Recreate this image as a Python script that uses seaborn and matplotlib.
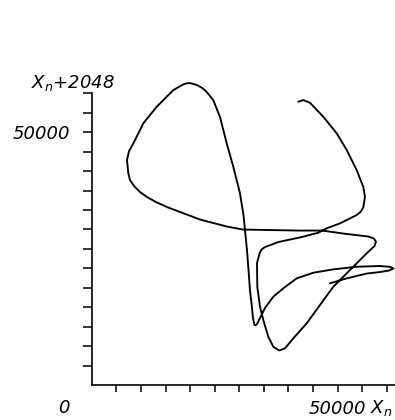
import matplotlib
matplotlib.use("Agg")
import matplotlib.pyplot as plt
import pandas as pd
import seaborn as sns

# Delay-embedding trajectory: x_n against x_{n+2048}
x_n = [41990, 43010, 44370, 47070, 49800, 51830, 53860, 55200, 55550, 55200,
       54630, 53860, 50470, 47760, 46060, 42680, 37930, 35220, 34510, 34110,
       33600, 33660, 34210, 34880, 35890, 36910, 38130, 39290, 40980, 43700,
       46400, 49110, 53170, 56160, 57480, 57780, 57380, 56220, 51480, 46810,
       42340, 36240, 30750, 27500, 22010, 15300, 13070, 11240, 9820, 8600,
       7780, 7440, 7170, 7580, 8460, 10490, 13210, 16590, 18560, 19270,
       19980, 21400, 22320, 23230, 24710, 26080, 27440, 28780, 30140, 30850,
       31160, 31560, 31830, 32170, 32520, 32780, 33090, 33350, 33600, 34210,
       35220, 36910, 38940, 41670, 45040, 49110, 53860, 58600, 60630, 61340,
       60430, 58600, 55890, 51830, 48430]
x_lag = [56010, 56340, 55810, 53050, 49760, 46460, 42510, 39200, 37230, 35090,
         34200, 33610, 31970, 30980, 30110, 29260, 28270, 27280, 26790, 26000,
         24120, 19430, 15480, 12850, 9550, 7570, 6820, 7260, 9230, 12200,
         15820, 19430, 23390, 26290, 27480, 28330, 28960, 29360, 29910, 30540,
         30540, 30640, 30740, 31330, 32720, 35190, 36180, 37170, 38160, 39340,
         40530, 41850, 44480, 46260, 47780, 51740, 55020, 58320, 59410, 59650,
         59710, 59310, 58820, 58120, 56340, 52980, 47780, 43160, 37900, 33610,
         30640, 26690, 23330, 18780, 15820, 13250, 11860, 11800, 12060, 13250,
         15220, 17460, 19120, 21090, 22200, 22870, 23390, 23530, 23370, 23030,
         22640, 22340, 22040, 21090, 20110]

# Axis ticks: only one labelled tick on each axis
x_step = 5000
y_step = 50000 / 13
x_tick_count = 12
y_tick_count = 15
x_label_value = 50000
y_label_value = 50000
origin_label = "0"
x_axis_name = "$X_n$"
y_axis_name = "$X_n$+2048"

x_max = 61650
y_max = 61000

sns.set_style("ticks")
plt.rcParams["font.family"] = ["DejaVu Sans"]
plt.rcParams["mathtext.default"] = "it"
plt.rcParams["text.color"] = "black"

fig = plt.figure(figsize=(3.95, 4.2), dpi=100)
ax = fig.add_axes([0.2322, 0.0833, 0.7678, 0.7345])

df = pd.DataFrame({"x_n": x_n, "x_lag": x_lag})
sns.lineplot(data=df, x="x_n", y="x_lag", sort=False, estimator=None,
             color="black", linewidth=1.35, ax=ax)
for ln in ax.lines:
    ln.set_clip_on(False)
    ln.set_solid_joinstyle("round")
    ln.set_solid_capstyle("round")

ax.set_xlim(0, x_max)
ax.set_ylim(0, y_max)
ax.set_xlabel("")
ax.set_ylabel("")

for side in ("top", "right"):
    ax.spines[side].set_visible(False)
for side in ("left", "bottom"):
    ax.spines[side].set_color("black")
    ax.spines[side].set_linewidth(1.2)
ax.spines["left"].set_bounds(0, y_step * y_tick_count)
ax.spines["bottom"].set_bounds(0, x_max)

xt = [x_step * k for k in range(1, x_tick_count + 1)]
yt = [y_step * k for k in range(1, y_tick_count + 1)]
ax.set_xticks(xt, [str(x_label_value) if abs(v - x_label_value) < 1 else "" for v in xt])
ax.set_yticks(yt, [str(y_label_value) if abs(v - y_label_value) < 1 else "" for v in yt])

ax.tick_params(axis="x", direction="out", length=5, width=1.1, pad=6,
               labelsize=13, colors="black")
ax.tick_params(axis="y", direction="out", length=6.5, width=1.1, pad=9,
               labelsize=13, colors="black")
for lbl in ax.get_xticklabels() + ax.get_yticklabels():
    lbl.set_fontstyle("italic")

fig.text(64 / 395, 1 - 408 / 420, origin_label, ha="center", va="center",
         fontsize=13, fontstyle="italic")
fig.text(370 / 395, 1 - 413 / 420, x_axis_name, ha="left", va="baseline",
         fontsize=13, fontstyle="italic")
fig.text(31 / 395, 1 - 88 / 420, y_axis_name, ha="left", va="baseline",
         fontsize=13, fontstyle="italic")

fig.savefig("out.png", dpi=100)
